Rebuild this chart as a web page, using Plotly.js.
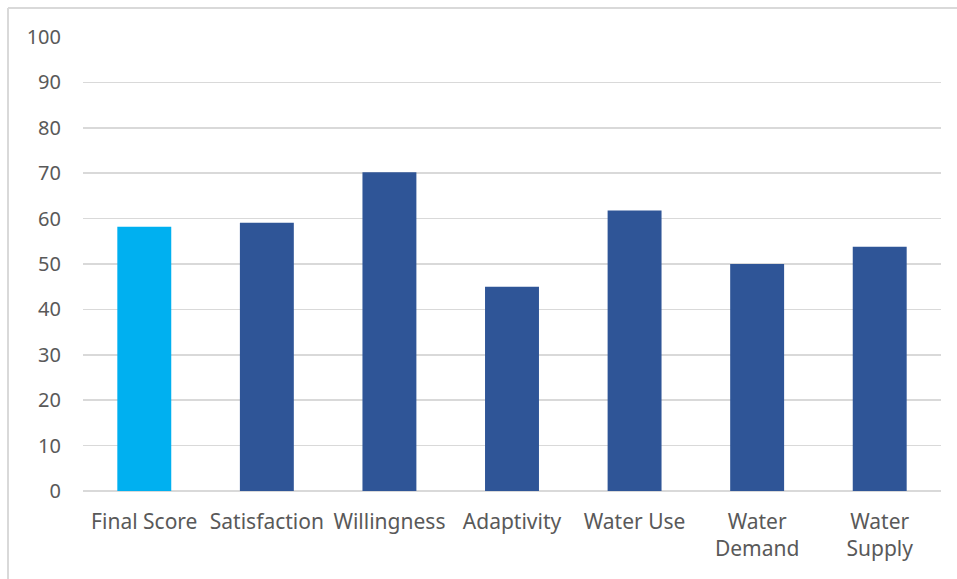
<!DOCTYPE html>
<html>
<head>
<meta charset="utf-8">
<script src="https://cdn.plot.ly/plotly-3.0.1.min.js"></script>
<style>
  html, body { margin: 0; padding: 0; background: #ffffff; }
  #chart { width: 957px; height: 579px; }
</style>
</head>
<body>
<div id="chart"></div>
<script>
const categories = ["Final Score", "Satisfaction", "Willingness", "Adaptivity", "Water Use", "Water<br>Demand", "Water<br>Supply"];
const scores = [58.2, 59.1, 70.2, 45.0, 61.8, 50.0, 53.8];
const barColors = ["#00B0F0", "#2F5597", "#2F5597", "#2F5597", "#2F5597", "#2F5597", "#2F5597"];
const yTicks = [0, 10, 20, 30, 40, 50, 60, 70, 80, 90, 100];

const W = 957, H = 579;
const margin = { l: 83, r: 16, t: 37, b: 88, pad: 0 };
const pw = W - margin.l - margin.r;
const ph = H - margin.t - margin.b;
// chart-area border (top and left edges visible in the reference)
const bx = (8 - margin.l) / pw;
const by = (H - 8 - margin.b) / ph;

const trace = {
  type: "bar",
  x: categories,
  y: scores,
  width: 0.44,
  marker: { color: barColors, line: { width: 0 } },
  hoverinfo: "x+y"
};

const layout = {
  width: W,
  height: H,
  margin: margin,
  paper_bgcolor: "#ffffff",
  plot_bgcolor: "#ffffff",
  showlegend: false,
  font: { family: "Noto Sans, Liberation Sans, sans-serif", size: 20, color: "#595959" },
  xaxis: {
    type: "category",
    showgrid: false,
    zeroline: false,
    showline: false,
    ticks: "",
    ticklabelstandoff: 16,
    tickfont: { size: 21, color: "#595959" },
    tickangle: 0
  },
  yaxis: {
    range: [0, 100],
    tickvals: yTicks,
    ticktext: yTicks.map(String),
    showgrid: true,
    gridcolor: "#D9D9D9",
    gridwidth: 1.5,
    zeroline: true,
    zerolinecolor: "#D9D9D9",
    zerolinewidth: 1.5,
    showline: false,
    ticks: "",
    ticklabelstandoff: 21,
    tickfont: { size: 20, color: "#595959" }
  },
  shapes: [
    { type: "line", xref: "paper", yref: "paper", x0: bx, x1: 1.2, y0: by, y1: by,
      line: { color: "#D9D9D9", width: 2 } },
    { type: "line", xref: "paper", yref: "paper", x0: bx, x1: bx, y0: -0.5, y1: by,
      line: { color: "#D9D9D9", width: 2 } }
  ]
};

Plotly.newPlot("chart", [trace], layout, { displayModeBar: false, staticPlot: true });
</script>
</body>
</html>
